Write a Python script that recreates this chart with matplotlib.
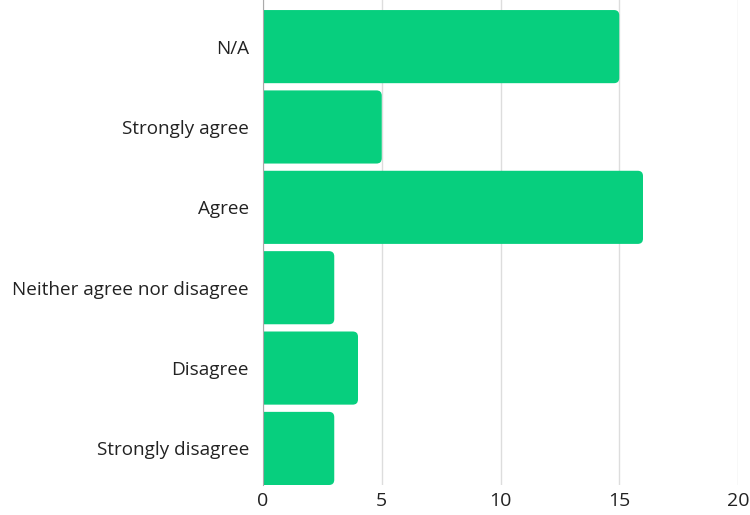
import matplotlib.pyplot as plt
from matplotlib.patches import FancyBboxPatch

categories = ['N/A', 'Strongly agree', 'Agree', 'Neither agree nor disagree',
              'Disagree', 'Strongly disagree']
counts = [15, 5, 16, 3, 4, 3]
xticks = [0, 5, 10, 15, 20]

plt.rcParams['font.family'] = ['Open Sans', 'DejaVu Sans']

fig = plt.figure(figsize=(7.5, 5.15), dpi=100)
ax = fig.add_axes([263/750, 1 - 485/515, 475/750, 485/515])

color = '#07cf7e'
h = 0.91
ypos = list(range(len(categories)))

# rounded bars; left end starts off-axes so only the right corners show
aspect = (1 / 80.3) / (1 / 23.75)
for y, c in zip(ypos, counts):
    p = FancyBboxPatch((-1, y - h / 2), c + 1, h,
                       boxstyle='round,pad=0,rounding_size=0.22',
                       mutation_aspect=aspect, fc=color, ec='none',
                       linewidth=0, zorder=2)
    ax.add_patch(p)

ax.set_xlim(0, 20)
ax.set_ylim(5.455, -0.58)
ax.set_yticks(ypos)
ax.set_yticklabels(categories)
ax.set_xticks(xticks)
ax.set_xticklabels([str(t) for t in xticks])
ax.tick_params(length=0, labelsize=13.6, colors='#222222', pad=10)
ax.tick_params(axis='x', pad=5, labelsize=14)
ax.grid(axis='x', color='#dddddd', linewidth=1, zorder=0)
for s in ['top', 'right', 'bottom']:
    ax.spines[s].set_visible(False)
ax.spines['left'].set_color('#aaaaaa')
ax.spines['left'].set_zorder(3)

fig.savefig('out.png', dpi=100)
